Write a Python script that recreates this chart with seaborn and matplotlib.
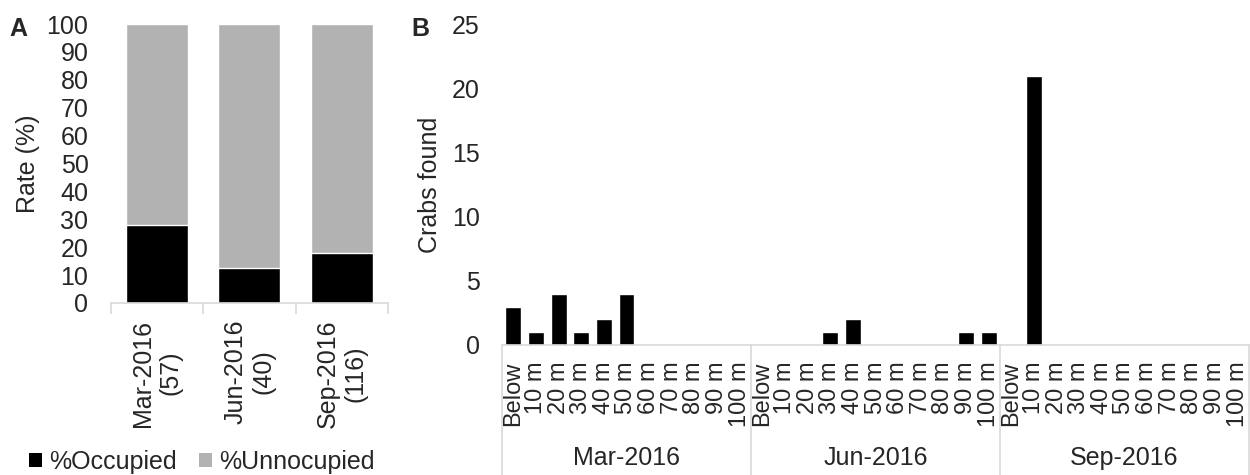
import matplotlib
matplotlib.use("Agg")
import matplotlib.pyplot as plt
import matplotlib.transforms as mtransforms
from matplotlib.patches import Patch
from matplotlib.lines import Line2D
import seaborn as sns
import pandas as pd

# ---- data ----
months = ["Mar-2016", "Jun-2016", "Sep-2016"]
sample_sizes = [57, 40, 116]
pct_occupied = [28.1, 12.5, 18.1]
pct_total = [100, 100, 100]

depths = ["Below", "10 m", "20 m", "30 m", "40 m", "50 m",
          "60 m", "70 m", "80 m", "90 m", "100 m"]
crabs_mar = [3, 1, 4, 1, 2, 4, 0, 0, 0, 0, 0]
crabs_jun = [0, 0, 0, 1, 2, 0, 0, 0, 0, 1, 1]
crabs_sep = [0, 21, 0, 0, 0, 0, 0, 0, 0, 0, 0]

# ---- style ----
sns.set_theme(style="white")
plt.rcParams["font.family"] = ["Liberation Sans", "DejaVu Sans"]
FS = 18
FS_DEPTH = 17
BLACK = "#000000"
GRAY = "#b2b2b2"
AXIS = "#d9d9d9"

fig = plt.figure(figsize=(12.5, 4.75), dpi=100)
W, H = 1250, 475


def axes_px(x0, y0, x1, y1):
    return fig.add_axes([x0 / W, 1 - y1 / H, (x1 - x0) / W, (y1 - y0) / H])


# ---- panel A: stacked occupancy ----
axA = axes_px(110.7, 24, 388, 303)
labelsA = [f"{m}\n({n})" for m, n in zip(months, sample_sizes)]
dfA = pd.DataFrame({"month": labelsA, "total": pct_total, "occ": pct_occupied})
sns.barplot(data=dfA, x="month", y="total", color=GRAY, saturation=1,
            width=0.67, ax=axA)
sns.barplot(data=dfA, x="month", y="occ", color=BLACK, saturation=1,
            width=0.67, ax=axA)
axA.set_xlim(-0.5, 2.5)
axA.set_ylim(0, 100)
axA.set_yticks(range(0, 101, 10))
axA.set_xlabel("")
axA.set_ylabel("Rate (%)", fontsize=FS)
axA.yaxis.set_label_coords(-0.255, 0.5)
for s in ("top", "right", "left"):
    axA.spines[s].set_visible(False)
axA.spines["bottom"].set_color(AXIS)
axA.spines["bottom"].set_linewidth(1.2)
axA.set_xticks(range(3))
axA.set_xticklabels(labelsA, rotation=90, fontsize=FS, ha="center",
                    va="top", multialignment="center")
axA.set_xticks([-0.5, 0.5, 1.5, 2.5], minor=True)
axA.tick_params(axis="x", which="major", length=0, pad=12)
axA.tick_params(axis="x", which="minor", length=8, width=1.2, color=AXIS,
                direction="out", bottom=True)
axA.tick_params(axis="y", length=0, pad=16, labelsize=FS)
fig.text(9 / W, 1 - 29 / H, "A", fontsize=18, fontweight="bold",
         va="center", ha="left")

fig.legend(handles=[Patch(facecolor=BLACK, edgecolor="none"),
                    Patch(facecolor=GRAY, edgecolor="none")],
           labels=["%Occupied", "%Unnocupied"], loc="center left",
           bbox_to_anchor=(29 / W, 1 - 462 / H), ncol=2, frameon=False,
           fontsize=FS, handlelength=0.5, handleheight=0.5,
           handletextpad=0.3, columnspacing=0.9, borderaxespad=0,
           borderpad=0)

# ---- panel B: crabs found by depth ----
axB = axes_px(502, 25, 1249, 345)
keys, ticklabels, counts = [], [], []
for m, vals in zip(months, [crabs_mar, crabs_jun, crabs_sep]):
    for d, v in zip(depths, vals):
        keys.append(f"{m} {d}")
        ticklabels.append(d)
        counts.append(v)
dfB = pd.DataFrame({"slot": keys, "crabs": counts})
sns.barplot(data=dfB, x="slot", y="crabs", order=keys, color=BLACK,
            saturation=1, width=0.7, ax=axB)
n = len(keys)
axB.set_xlim(-0.5, n - 0.5)
axB.set_ylim(0, 25)
axB.set_yticks(range(0, 26, 5))
axB.set_xlabel("")
axB.set_ylabel("Crabs found", fontsize=FS)
axB.yaxis.set_label_coords(-0.0807, 0.5)
for s in ("top", "right", "left"):
    axB.spines[s].set_visible(False)
axB.spines["bottom"].set_color(AXIS)
axB.spines["bottom"].set_linewidth(1.2)
axB.set_xticks(range(n))
axB.set_xticklabels(ticklabels, rotation=90, fontsize=FS_DEPTH)
axB.tick_params(axis="x", length=0, pad=12)
axB.tick_params(axis="y", length=0, pad=16, labelsize=FS)

# month group separators and labels below the depth labels
trans = mtransforms.blended_transform_factory(axB.transData, axB.transAxes)
drop = -130 / 320
ng = len(depths)
for g in range(len(months) + 1):
    xb = g * ng - 0.5
    axB.add_line(Line2D([xb, xb], [0, drop], transform=trans, color=AXIS,
                        lw=1.2, clip_on=False))
for g, m in enumerate(months):
    axB.text(g * ng + (ng - 1) / 2, -113 / 320, m, transform=trans,
             ha="center", va="center", fontsize=FS)
fig.text(411 / W, 1 - 29 / H, "B", fontsize=18, fontweight="bold",
         va="center", ha="left")

fig.savefig("out.png", dpi=100)
